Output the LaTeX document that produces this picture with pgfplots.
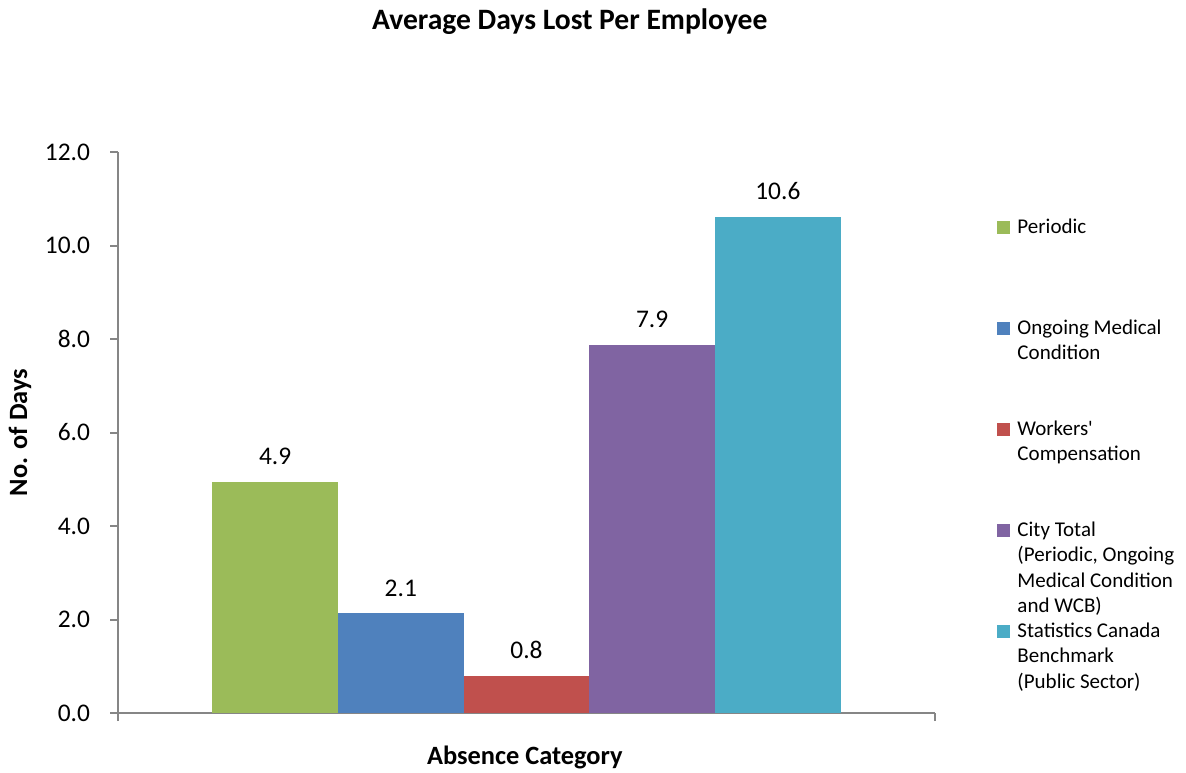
\documentclass[border=0pt]{standalone}
\usepackage{pgfplots}
\pgfplotsset{compat=1.18}
\usepackage{fontspec}
\setmainfont{Carlito}
\definecolor{cgreen}{HTML}{9BBB59}
\definecolor{cblue}{HTML}{4F81BD}
\definecolor{cred}{HTML}{C0504D}
\definecolor{cpurple}{HTML}{8064A2}
\definecolor{cteal}{HTML}{4BACC6}
\definecolor{caxis}{HTML}{868686}
\newcommand{\legtext}[1]{\parbox[t][48.5pt][t]{84pt}{\raggedright\strut #1}}
\pgfplotsset{sq/.style={legend image code/.code={\fill[##1,draw=none] (0pt,0pt) rectangle (6.5pt,6.5pt);}}}
\begin{document}
\begin{tikzpicture}
\useasboundingbox (0,0) rectangle (593pt,386pt);
\begin{axis}[
  at={(59pt,29.5pt)}, anchor=south west,
  scale only axis, width=408.5pt, height=280.5pt,
  ybar=0pt, bar width=0.2,
  xmin=-0.65, xmax=0.65, ymin=0, ymax=12,
  axis x line*=bottom, axis y line*=left,
  axis line style={caxis, line width=1pt},
  every tick/.style={caxis, line width=1pt},
  tick align=outside, major tick length=4pt,
  ytick={0,2,4,6,8,10,12},
  xtick={-0.65,0.65}, xticklabels={},
  /pgf/number format/fixed, /pgf/number format/fixed zerofill,
  /pgf/number format/precision=1, /pgf/number format/assume math mode=true,
  tick label style={font=\fontsize{12.7}{15}\selectfont},
  yticklabel style={xshift=-6.5pt},
  nodes near coords,
  every node near coord/.append style={font=\fontsize{12.7}{15}\selectfont, yshift=5pt},
  title={Average Days Lost Per Employee},
  every axis title shift=0pt,
  title style={at={(axis description cs:0.553,1.232)}, anchor=center, font=\bfseries\fontsize{14.8}{17}\selectfont},
  xlabel={Absence Category},
  xlabel style={at={(axis description cs:0.498,-0.080)}, anchor=center, font=\bfseries\fontsize{13.2}{16}\selectfont},
  ylabel={No. of Days},
  ylabel style={at={(axis description cs:-0.120,0.5)}, anchor=center, font=\bfseries\fontsize{13.2}{16}\selectfont},
  legend style={at={(axis description cs:1.076,0.890)}, anchor=north west, draw=none, fill=none,
    inner xsep=0pt, inner ysep=0pt,
    font=\fontsize{10.5}{12.6}\selectfont,
    cells={anchor=base west}, nodes={inner sep=1pt, text depth=}, row sep=0pt,
    /tikz/every odd column/.style={column sep=2.5pt}},
]
\addplot[fill=cgreen, draw=none, sq] coordinates {(0,4.94)};
\addlegendentry{\legtext{Periodic}}
\addplot[fill=cblue, draw=none, sq] coordinates {(0,2.13)};
\addlegendentry{\legtext{Ongoing Medical\newline Condition}}
\addplot[fill=cred, draw=none, sq] coordinates {(0,0.80)};
\addlegendentry{\legtext{Workers\textquotesingle\newline Compensation}}
\addplot[fill=cpurple, draw=none, sq] coordinates {(0,7.87)};
\addlegendentry{\legtext{City Total\newline (Periodic, Ongoing\newline Medical Condition\newline and WCB)}}
\addplot[fill=cteal, draw=none, sq] coordinates {(0,10.62)};
\addlegendentry{\legtext{Statistics Canada\newline Benchmark\newline (Public Sector)}}
\end{axis}
\end{tikzpicture}
\end{document}
